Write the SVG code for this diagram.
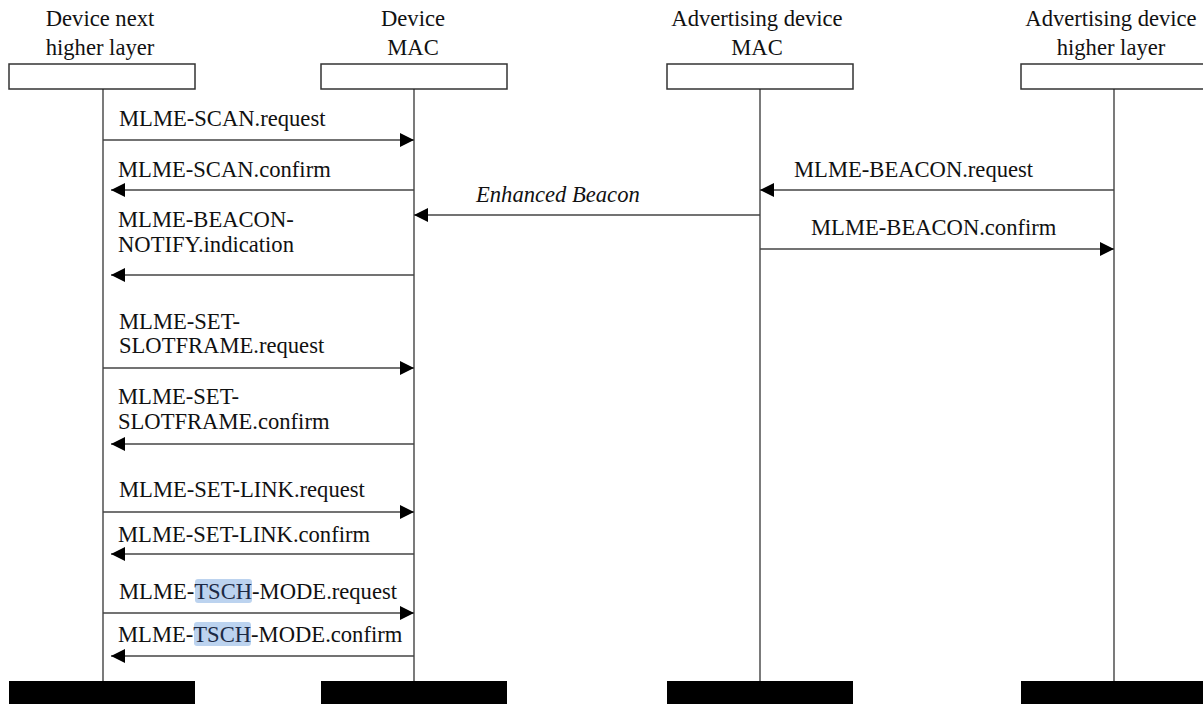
<svg xmlns="http://www.w3.org/2000/svg" width="1203" height="704" viewBox="0 0 1203 704">
<style>
text{font-family:"Liberation Serif","Times New Roman",serif;font-size:22.6px;fill:#111}
.hd{text-anchor:middle}
.it{font-style:italic}
.box{fill:#fff;stroke:#333;stroke-width:1.5}
.foot{fill:#000;stroke:none}
.life{stroke:#222;stroke-width:1.2}
.msg{stroke:#444;stroke-width:1.6;fill:none;marker-end:url(#ah)}
.hl{fill:#bcd3ef}
.ts{fill:#1c2a45}
</style>
<defs>
<marker id="ah" markerUnits="userSpaceOnUse" markerWidth="15" markerHeight="15" refX="14" refY="7" orient="auto">
<path d="M0,0 L14,7 L0,14 z" fill="#000"/>
</marker>
</defs>
<g id="node-device-nhl">
<text class="hd" x="100" y="26">Device next</text>
<text class="hd" x="100" y="55">higher layer</text>
<rect class="box" x="9" y="64" width="186" height="25"/>
<line class="life" x1="103" y1="89" x2="103" y2="681"/>
<rect class="foot" x="9" y="681" width="186" height="24"/>
</g>
<g id="node-device-mac">
<text class="hd" x="413" y="26">Device</text>
<text class="hd" x="413" y="55">MAC</text>
<rect class="box" x="321" y="64" width="186" height="25"/>
<line class="life" x1="414" y1="89" x2="414" y2="681"/>
<rect class="foot" x="321" y="681" width="186" height="24"/>
</g>
<g id="node-adv-mac">
<text class="hd" x="757" y="26">Advertising device</text>
<text class="hd" x="757" y="55">MAC</text>
<rect class="box" x="667" y="64" width="186" height="25"/>
<line class="life" x1="760" y1="89" x2="760" y2="681"/>
<rect class="foot" x="667" y="681" width="186" height="24"/>
</g>
<g id="node-adv-hl">
<text class="hd" x="1111" y="26">Advertising device</text>
<text class="hd" x="1111" y="55">higher layer</text>
<rect class="box" x="1021" y="64" width="186" height="25"/>
<line class="life" x1="1114" y1="89" x2="1114" y2="681"/>
<rect class="foot" x="1021" y="681" width="186" height="24"/>
</g>
<g id="connectors">
<line class="msg" x1="103" y1="140" x2="414" y2="140"/>
<text x="119" y="126">MLME-SCAN.request</text>
<line class="msg" x1="414" y1="190" x2="111" y2="190"/>
<text x="118" y="177">MLME-SCAN.confirm</text>
<line class="msg" x1="1114" y1="190" x2="760" y2="190"/>
<text x="794" y="177">MLME-BEACON.request</text>
<line class="msg" x1="760" y1="215" x2="414" y2="215"/>
<text class="it" x="476" y="202">Enhanced Beacon</text>
<line class="msg" x1="760" y1="249" x2="1114" y2="249"/>
<text x="811" y="235">MLME-BEACON.confirm</text>
<line class="msg" x1="414" y1="275" x2="111" y2="275"/>
<text x="118" y="227">MLME-BEACON-</text>
<text x="118" y="252">NOTIFY.indication</text>
<line class="msg" x1="103" y1="368" x2="414" y2="368"/>
<text x="119" y="329">MLME-SET-</text>
<text x="119" y="353">SLOTFRAME.request</text>
<line class="msg" x1="414" y1="444" x2="111" y2="444"/>
<text x="118" y="404">MLME-SET-</text>
<text x="118" y="429">SLOTFRAME.confirm</text>
<line class="msg" x1="103" y1="512" x2="414" y2="512"/>
<text x="119" y="497">MLME-SET-LINK.request</text>
<line class="msg" x1="414" y1="554" x2="111" y2="554"/>
<text x="118" y="542">MLME-SET-LINK.confirm</text>
<rect class="hl" x="195" y="579" width="57" height="24" rx="3"/>
<line class="msg" x1="103" y1="613" x2="414" y2="613"/>
<text x="119" y="599">MLME-<tspan class="ts">TSCH</tspan>-MODE.request</text>
<rect class="hl" x="194" y="622" width="57" height="24" rx="3"/>
<line class="msg" x1="414" y1="656" x2="111" y2="656"/>
<text x="118" y="642">MLME-<tspan class="ts">TSCH</tspan>-MODE.confirm</text>
</g>
</svg>
